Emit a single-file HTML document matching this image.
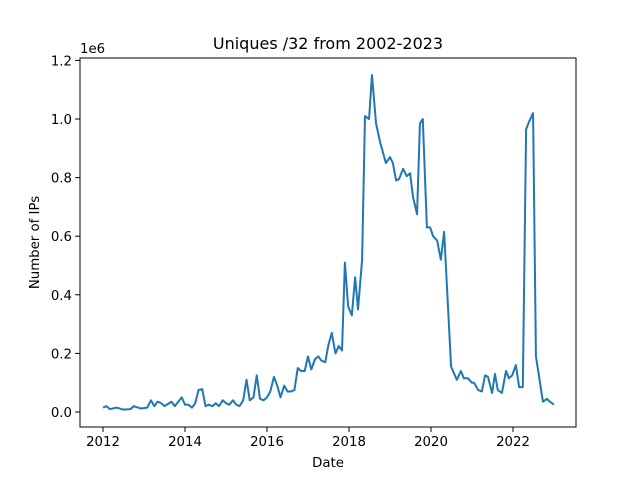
<!DOCTYPE html>
<html><head><meta charset="utf-8"><style>
body{margin:0;background:#fff}
svg{font-family:"DejaVu Sans","Liberation Sans",sans-serif}
</style></head><body>
<svg id="chart" width="640" height="480" viewBox="0 0 640 480">
<rect x="0" y="0" width="640" height="480" fill="#fff"/>
</svg>
<script>
const dates = [2012.0,2012.08,2012.17,2012.33,2012.5,2012.67,2012.75,2012.92,2013.08,2013.17,2013.25,2013.33,2013.42,2013.5,2013.67,2013.75,2013.92,2014.0,2014.08,2014.17,2014.25,2014.33,2014.42,2014.5,2014.58,2014.67,2014.75,2014.83,2014.92,2015.0,2015.08,2015.17,2015.25,2015.33,2015.42,2015.5,2015.58,2015.67,2015.75,2015.83,2015.92,2016.0,2016.08,2016.17,2016.25,2016.33,2016.42,2016.5,2016.58,2016.67,2016.75,2016.83,2016.92,2017.0,2017.08,2017.17,2017.25,2017.33,2017.42,2017.5,2017.58,2017.67,2017.75,2017.83,
2017.90,2017.98,2018.07,2018.15,2018.22,2018.32,2018.39,2018.49,2018.56,2018.66,2018.76,2018.90,2019.0,2019.07,2019.15,2019.22,2019.32,2019.41,2019.49,2019.56,2019.66,2019.73,2019.80,2019.90,2019.98,2020.05,2020.15,2020.24,2020.32,2020.49,2020.63,2020.73,2020.80,2020.90,2021.0,2021.05,2021.15,2021.24,2021.32,2021.39,2021.49,2021.56,2021.63,2021.73,2021.83,2021.90,2021.98,2022.07,2022.15,2022.24,2022.32,2022.39,2022.49,2022.56,2022.73,2022.83,2022.90,2023.0];
const values = [0.015,0.02,0.01,0.015,0.008,0.01,0.02,0.012,0.015,0.04,0.02,0.035,0.03,0.02,0.035,0.02,0.05,0.025,0.025,0.015,0.03,0.075,0.078,0.02,0.025,0.02,0.03,0.02,0.04,0.03,0.025,0.04,0.025,0.02,0.04,0.11,0.04,0.05,0.125,0.045,0.04,0.05,0.07,0.12,0.09,0.05,0.09,0.07,0.07,0.075,0.15,0.14,0.14,0.19,0.145,0.18,0.19,0.175,0.17,0.23,0.27,0.2,0.225,0.21,
0.51,0.36,0.33,0.46,0.35,0.52,1.01,1.0,1.15,0.985,0.92,0.85,0.87,0.85,0.79,0.795,0.83,0.805,0.815,0.735,0.675,0.985,1.0,0.63,0.63,0.6,0.585,0.52,0.615,0.155,0.11,0.14,0.115,0.115,0.1,0.1,0.075,0.07,0.125,0.12,0.065,0.13,0.075,0.065,0.14,0.115,0.125,0.16,0.085,0.085,0.965,0.99,1.02,0.19,0.035,0.045,0.035,0.025];
const xTicks = [2012,2014,2016,2018,2020,2022];
const yTicks = [0,0.2,0.4,0.6,0.8,1.0,1.2];
const yTickLabels = ["0.0","0.2","0.4","0.6","0.8","1.0","1.2"];

const L=80,R=576,T=58,B=427;
const xMin=2011.439,xMax=2023.537,yMin=-0.0512,yMax=1.2082;
const sx=v=>L+(v-xMin)/(xMax-xMin)*(R-L);
const sy=v=>B-(v-yMin)/(yMax-yMin)*(B-T);
const svg=document.getElementById('chart');
const NS='http://www.w3.org/2000/svg';
function mk(tag,attrs,text){const e=document.createElementNS(NS,tag);for(const k in attrs)e.setAttribute(k,attrs[k]);if(text!==undefined)e.textContent=text;svg.appendChild(e);return e;}

let d='';
dates.forEach((x,i)=>{d+=(i?'L':'M')+sx(x).toFixed(2)+','+sy(values[i]).toFixed(2);});
const line=mk('path',{d:d,fill:'none',stroke:'#1f77b4','stroke-width':2,'stroke-linejoin':'round'});



const frame=mk('rect',{x:L,y:T,width:R-L,height:B-T,fill:'none',stroke:'#000','stroke-width':1});



xTicks.forEach(t=>{
  const x=sx(t);
  mk('line',{x1:x,x2:x,y1:B,y2:B+4.9,stroke:'#000','stroke-width':1});
  const lb=mk('text',{x:x,y:B+19,'font-size':13.3,'text-anchor':'middle'},String(t));
  
  
});
yTicks.forEach((t,i)=>{
  const y=sy(t);
  mk('line',{x1:L-4.9,x2:L,y1:y,y2:y,stroke:'#000','stroke-width':1});
  const lb=mk('text',{x:L-8,y:y+5,'font-size':13.3,'text-anchor':'end'},yTickLabels[i]);
  
  
});
const off=mk('text',{x:L,y:T-5,'font-size':13.3},'1e6');


const title=mk('text',{x:(L+R)/2,y:T-9,'font-size':16,'text-anchor':'middle'},'Uniques /32 from 2002-2023');


const xl=mk('text',{x:(L+R)/2,y:467,'font-size':13.3,'text-anchor':'middle'},'Date');


const yl=mk('text',{x:39,y:(T+B)/2,'font-size':13.3,'text-anchor':'middle',transform:'rotate(-90 39 '+((T+B)/2)+')'},'Number of IPs');


</script>
</body></html>
